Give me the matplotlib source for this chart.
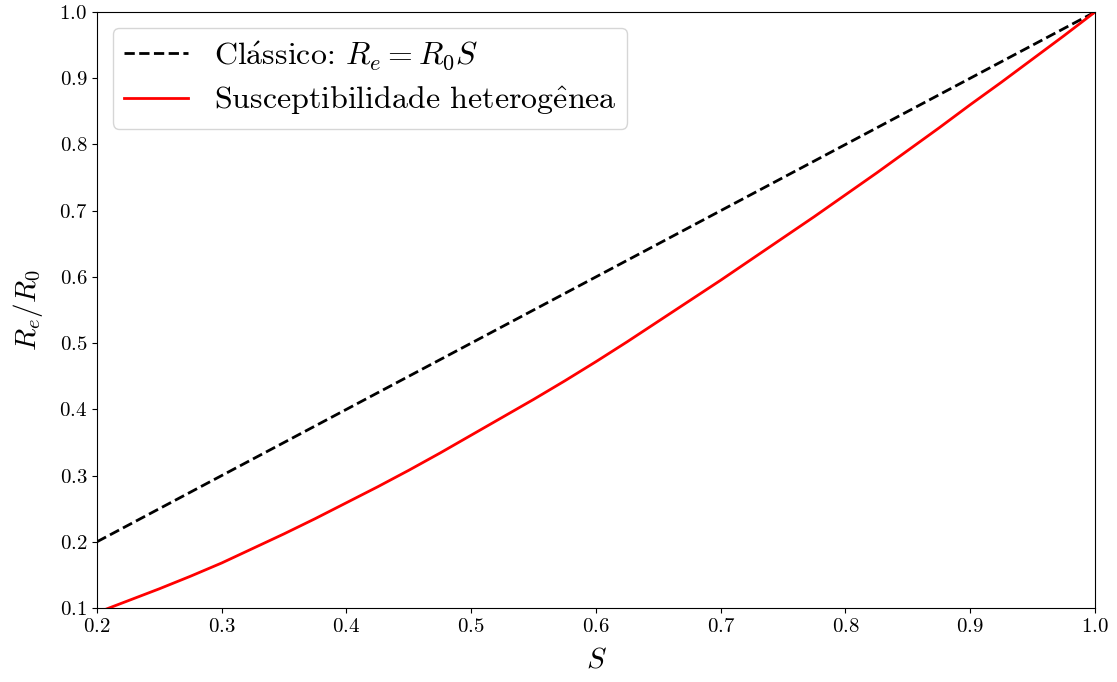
import numpy as np
import matplotlib
matplotlib.use('Agg')
import matplotlib.pyplot as plt

# values
S = np.array([0.200, 0.225, 0.250, 0.275, 0.300, 0.325, 0.350, 0.375, 0.400,
              0.425, 0.450, 0.475, 0.500, 0.525, 0.550, 0.575, 0.600,
              0.625, 0.650, 0.675, 0.700, 0.725, 0.750, 0.775, 0.800,
              0.825, 0.850, 0.875, 0.900, 0.925, 0.950, 0.975, 1.000])
classico = S.copy()
hetero = np.array([0.093, 0.111, 0.129, 0.148, 0.168, 0.190, 0.212, 0.235, 0.259,
                   0.283, 0.308, 0.334, 0.361, 0.388, 0.415, 0.443, 0.472,
                   0.502, 0.533, 0.564, 0.595, 0.627, 0.659, 0.691, 0.724,
                   0.757, 0.791, 0.825, 0.860, 0.894, 0.929, 0.964, 1.000])

plt.rcParams['font.family'] = ['cmr10', 'DejaVu Serif']
plt.rcParams['mathtext.fontset'] = 'cm'
plt.rcParams['axes.unicode_minus'] = False
plt.rcParams['axes.formatter.use_mathtext'] = True

fig = plt.figure(figsize=(11.17, 6.82), dpi=100)
ax = fig.add_axes([0.0868, 0.1085, 0.8935, 0.8739])

# accents through mathtext, cmr10 has no accented glyphs
ax.plot(S, classico, '--', color='black', lw=2,
        label=r'Cl$\acute{\mathrm{a}}$ssico: $R_e = R_0 S$')
ax.plot(S, hetero, '-', color='red', lw=2,
        label=r'Susceptibilidade heterog$\hat{\mathrm{e}}$nea')

ax.set_xlim(0.2, 1.0)
ax.set_ylim(0.1, 1.0)
ax.set_xticks(np.arange(0.2, 1.01, 0.1))
ax.set_yticks(np.arange(0.1, 1.01, 0.1))
ax.tick_params(labelsize=15)
ax.set_xlabel(r'$S$', fontsize=21, labelpad=8)
ax.set_ylabel(r'$R_e/R_0$', fontsize=21, labelpad=10)

ax.legend(loc='upper left', fontsize=23, handlelength=2.0,
          labelspacing=0.4, borderpad=0.35, borderaxespad=0.5)

fig.savefig('out.png', dpi=100)
